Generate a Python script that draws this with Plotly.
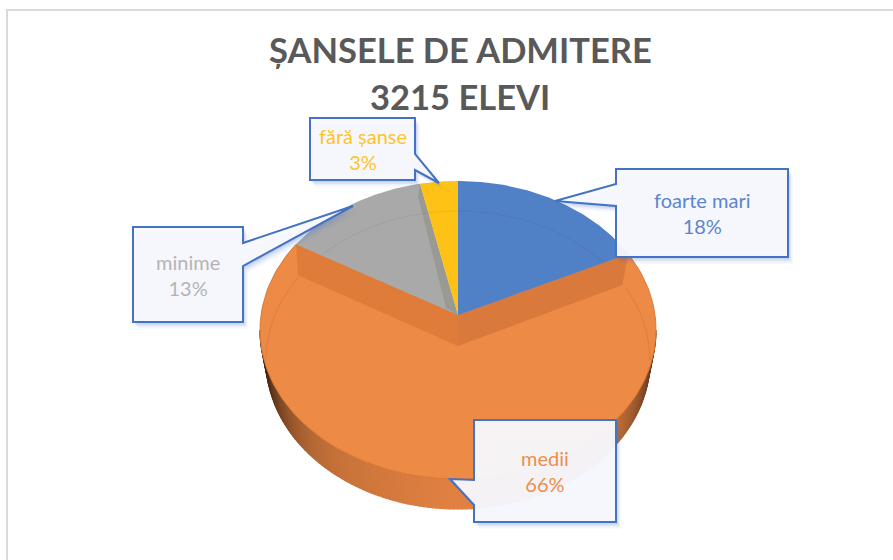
import math
import plotly.graph_objects as go

# ---- data ----
categories = ["foarte mari", "medii", "minime", "fără șanse"]
values = [17.9, 65.5, 13.2, 3.4]
slice_colors = ["#5080C6", "#ED8A45", "#A9A9A9", "#FEC116"]
label_colors = ["#5B85CC", "#EE8D4C", "#B4B4B4", "#FEC32A"]
title_lines = ["ȘANSELE DE ADMITERE", "3215 ELEVI"]

# ---- projection of the tilted pie on the page ----
CX, CY, RX = 458.0, 315.0, 197.0
PA, PC = -115.8, 0.1007
DEPTH = 31.0


def project(frac):
    t = 2 * math.pi * frac
    u, v = math.sin(t), math.cos(t)
    d = PC * v + 1
    return CX + RX * u / d, (PA * v + CY) / d


def arc(f0, f1, n=80):
    pts = [project(f0 + (f1 - f0) * i / n) for i in range(n + 1)]
    return pts


def poly_trace(pts, fill, line=None, width=0):
    xs = [p[0] for p in pts] + [pts[0][0]]
    ys = [p[1] for p in pts] + [pts[0][1]]
    return go.Scatter(x=xs, y=ys, mode="lines", fill="toself", fillcolor=fill,
                      line=dict(color=line or fill, width=width if line else 0),
                      hoverinfo="skip", showlegend=False)


total = sum(values)
cum = [0]
for v in values:
    cum.append(cum[-1] + v / total)

fig = go.Figure()

# side of the pie
n_side = 140
for i in range(n_side):
    a0 = math.pi * i / n_side
    a1 = math.pi * (i + 1) / n_side
    q = [(458 + 198 * math.cos(a0), 330 + 149 * math.sin(a0)),
         (458 + 198 * math.cos(a1), 330 + 149 * math.sin(a1)),
         (458 + 192 * math.cos(a1), 360 + 149 * math.sin(a1)),
         (458 + 192 * math.cos(a0), 360 + 149 * math.sin(a0))]
    cs = math.cos((a0 + a1) / 2)
    c = abs(cs)
    s = 1 - (0.17 if cs < 0 else 0.05) * c - 0.55 * c ** 7
    col = f"rgb({int(226*s)},{int(130*s)},{int(66*s)})"
    fig.add_trace(go.Scatter(x=[p[0] for p in q] + [q[0][0]], y=[p[1] for p in q] + [q[0][1]],
                             mode="lines", fill="toself", fillcolor=col,
                             line=dict(color=col, width=1.2), hoverinfo="skip", showlegend=False))

apex = (CX, CY)
e18 = project(cum[1])
e84 = project(cum[2])
e97 = project(cum[3])
mid = (CX, CY + DEPTH)

# orange surface and its inner walls
fig.add_trace(poly_trace([apex] + arc(cum[1], cum[2], 160), slice_colors[1], "#D97A38", 1))
fig.add_trace(poly_trace([apex, e84, (e84[0] + 2, e84[1] + DEPTH), mid], "#E07C3A"))
fig.add_trace(poly_trace([apex, mid, (e18[0] - 6, e18[1] + DEPTH), e18], "#DA793C"))

# other slices
fig.add_trace(poly_trace([apex] + arc(cum[0], cum[1]), slice_colors[0]))
fig.add_trace(poly_trace([apex] + arc(cum[2], cum[3]), slice_colors[2]))
fig.add_trace(poly_trace([apex, e97, (e97[0] - 2, e97[1] + 13), (CX - 12, CY - 7)], "#9A9A94"))
fig.add_trace(poly_trace([apex] + arc(cum[3], cum[4]), slice_colors[3]))

# faint rim of the pie's base seen through the surface
ring_top, ring_left, ring_right = [], [], []
for i in range(721):
    a = 2 * math.pi * i / 720
    x, y = 458 + 192 * math.cos(a), 360 + 149 * math.sin(a)
    if y < 360:
        if 323 < x < 602 and y < 265:
            ring_top.append((a, x, y))
        elif x < 302 and y > 276:
            ring_left.append((a, x, y))
        elif x > 606 and y > 287:
            ring_right.append((a, x, y))
for seg, col in ((ring_top, "rgba(60,60,60,0.09)"), (ring_left, "rgba(190,90,30,0.28)"),
                 (ring_right, "rgba(190,90,30,0.28)")):
    seg.sort()
    fig.add_trace(go.Scatter(x=[p[1] for p in seg], y=[p[2] for p in seg], mode="lines",
                             line=dict(color=col, width=1), hoverinfo="skip", showlegend=False))


# ---- callouts ----
def callout_path(box, tip, att, side, dx=0, dy=0):
    x0, y0, x1, y1 = box
    if side == "left":
        pts = [(x0, y0), (x1, y0), (x1, y1), (x0, y1), (x0, att[1]), tip, (x0, att[0])]
    else:
        pts = [(x0, y0), (x1, y0), (x1, att[0]), tip, (x1, att[1]), (x1, y1), (x0, y1)]
    return "M" + " L".join(f"{p[0]+dx},{p[1]+dy}" for p in pts) + " Z"


callouts = [
    ((616, 169, 788, 257), (555, 201), (184, 206), "left", 0),
    ((474, 420, 616, 522), (450, 479), (480, 505), "left", 1),
    ((133, 227, 243, 322), (353, 206), (243, 266), "right", 2),
    ((310, 118, 415, 180), (439, 183), (154, 170), "right", 3),
]
shapes = [dict(type="rect", x0=7, y0=10, x1=900, y1=570, line=dict(color="#D9D9D9", width=2),
               fillcolor="rgba(0,0,0,0)", layer="below")]
annotations = []
for box, tip, att, side, idx in callouts:
    for off, alpha in ((7, 0.04), (5.5, 0.06), (4, 0.09), (2.5, 0.12)):
        shapes.append(dict(type="path", path=callout_path(box, tip, att, side, off * 0.7, off),
                           fillcolor=f"rgba(68,114,196,{alpha})", line=dict(width=0)))
    shapes.append(dict(type="path", path=callout_path(box, tip, att, side),
                       fillcolor="rgba(248,249,252,0.95)",
                       line=dict(color="#4472C4", width=2)))
    annotations.append(dict(x=(box[0] + box[2]) / 2, y=(box[1] + box[3]) / 2,
                            text=f"{categories[idx]}<br>{round(values[idx])}%",
                            xref="x", yref="y", showarrow=False,
                            font=dict(family="Lato", size=20, color=label_colors[idx])))

for line, yc in zip(title_lines, (49, 96)):
    annotations.append(dict(x=460, y=yc, text=f"<b>{line}</b>", xref="x", yref="y", showarrow=False,
                            font=dict(family="Lato", size=34.5, color="#595959")))

fig.update_layout(width=893, height=560, margin=dict(l=0, r=0, t=0, b=0),
                  paper_bgcolor="white", plot_bgcolor="white", showlegend=False,
                  shapes=shapes, annotations=annotations,
                  xaxis=dict(range=[0, 893], visible=False, fixedrange=True),
                  yaxis=dict(range=[560, 0], visible=False, fixedrange=True))

fig.write_html("out.html", config={"displayModeBar": False},
               post_script="document.body.style.margin='0';document.body.style.overflow='hidden';")
